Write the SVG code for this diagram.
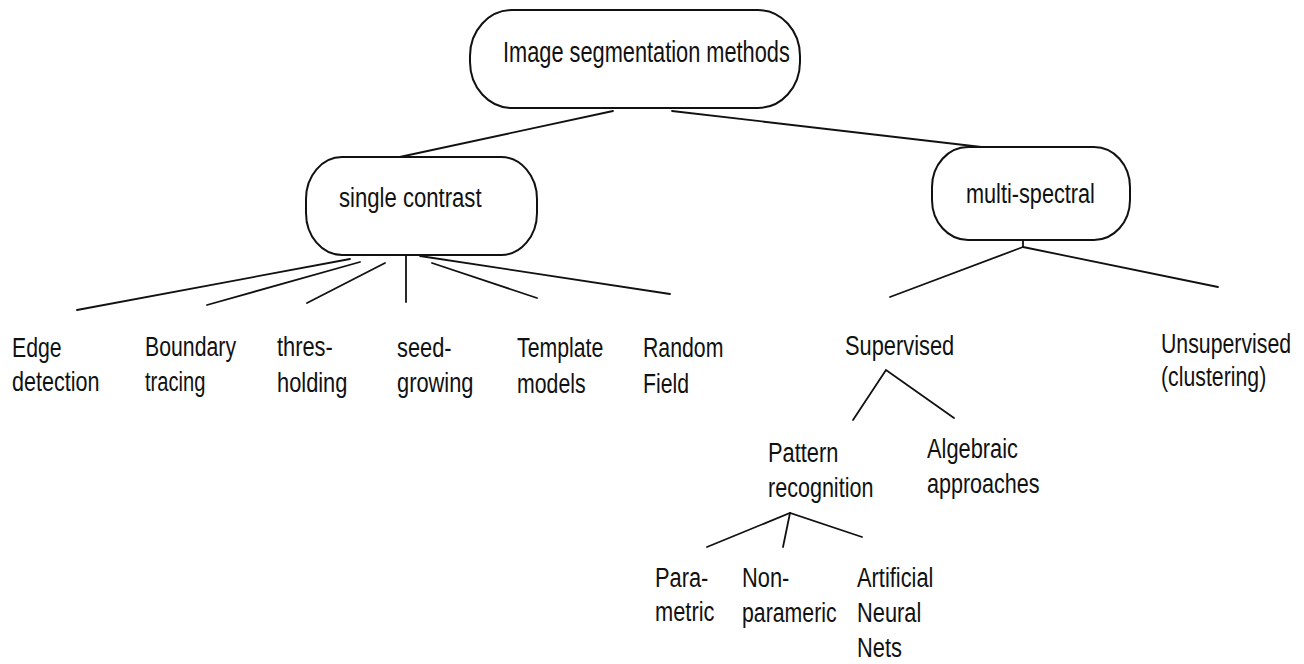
<svg xmlns="http://www.w3.org/2000/svg" width="1304" height="664" viewBox="0 0 1304 664">
<style>
.box{fill:#fff;stroke:#111;stroke-width:2}
.edge{stroke:#111;stroke-width:1.8;fill:none;stroke-linecap:round}
text{font-family:"Liberation Sans",Arial,sans-serif;font-size:28px;fill:#111}
.big{font-size:30px}
</style>
<rect width="1304" height="664" fill="#fff"/>
<g id="connectors">
<line class="edge" x1="613" y1="111" x2="395" y2="158"/>
<line class="edge" x1="672" y1="111" x2="990" y2="148"/>
<line class="edge" x1="350" y1="259" x2="77" y2="310"/>
<line class="edge" x1="360" y1="262" x2="207" y2="305"/>
<line class="edge" x1="385" y1="263" x2="307" y2="303"/>
<line class="edge" x1="406" y1="255" x2="406" y2="302"/>
<line class="edge" x1="432" y1="263" x2="537" y2="298"/>
<line class="edge" x1="420" y1="256" x2="670" y2="294"/>
<line class="edge" x1="1023" y1="241" x2="1023" y2="247"/>
<line class="edge" x1="1023" y1="247" x2="890" y2="297"/>
<line class="edge" x1="1023" y1="247" x2="1218" y2="287"/>
<polyline class="edge" points="853,420 886,370 954,418"/>
<polyline class="edge" points="707,547 790,513 862,537"/>
<line class="edge" x1="790" y1="513" x2="783" y2="547"/>
</g>
<g id="root">
<rect class="box" x="470" y="10" width="330" height="98" rx="42" ry="46"/>
<text class="big" transform="translate(503,62) scale(0.726,1)">Image segmentation methods</text>
</g>
<g id="single-contrast">
<rect class="box" x="306" y="157" width="231" height="98" rx="36" ry="42"/>
<text transform="translate(339,207) scale(0.79,1)">single contrast</text>
</g>
<g id="multi-spectral">
<rect class="box" x="932" y="147" width="198" height="93" rx="36" ry="40"/>
<text transform="translate(966,203) scale(0.775,1)">multi-spectral</text>
</g>
<g id="edge-detection">
<text transform="translate(12,357) scale(0.76,1)">Edge</text>
<text transform="translate(12,391) scale(0.77,1)">detection</text>
</g>
<g id="boundary-tracing">
<text transform="translate(145,356) scale(0.76,1)">Boundary</text>
<text transform="translate(145,391) scale(0.72,1)">tracing</text>
</g>
<g id="thresholding">
<text transform="translate(277,356) scale(0.78,1)">thres-</text>
<text transform="translate(277,392) scale(0.78,1)">holding</text>
</g>
<g id="seed-growing">
<text transform="translate(397,357) scale(0.78,1)">seed-</text>
<text transform="translate(397,392) scale(0.78,1)">growing</text>
</g>
<g id="template-models">
<text transform="translate(517,357) scale(0.76,1)">Template</text>
<text transform="translate(517,393) scale(0.76,1)">models</text>
</g>
<g id="random-field">
<text transform="translate(643,357) scale(0.76,1)">Random</text>
<text transform="translate(643,393) scale(0.76,1)">Field</text>
</g>
<g id="supervised">
<text transform="translate(845,355) scale(0.78,1)">Supervised</text>
</g>
<g id="unsupervised">
<text transform="translate(1161,353) scale(0.76,1)">Unsupervised</text>
<text transform="translate(1161,386) scale(0.76,1)">(clustering)</text>
</g>
<g id="pattern-recognition">
<text transform="translate(768,462) scale(0.78,1)">Pattern</text>
<text transform="translate(768,497) scale(0.77,1)">recognition</text>
</g>
<g id="algebraic-approaches">
<text transform="translate(927,458) scale(0.78,1)">Algebraic</text>
<text transform="translate(927,493) scale(0.77,1)">approaches</text>
</g>
<g id="parametric">
<text transform="translate(655,587) scale(0.78,1)">Para-</text>
<text transform="translate(655,621) scale(0.78,1)">metric</text>
</g>
<g id="non-parametric">
<text transform="translate(742,587) scale(0.78,1)">Non-</text>
<text transform="translate(742,622) scale(0.76,1)">parameric</text>
</g>
<g id="ann">
<text transform="translate(857,587) scale(0.78,1)">Artificial</text>
<text transform="translate(857,622) scale(0.78,1)">Neural</text>
<text transform="translate(857,657) scale(0.78,1)">Nets</text>
</g>
</svg>
